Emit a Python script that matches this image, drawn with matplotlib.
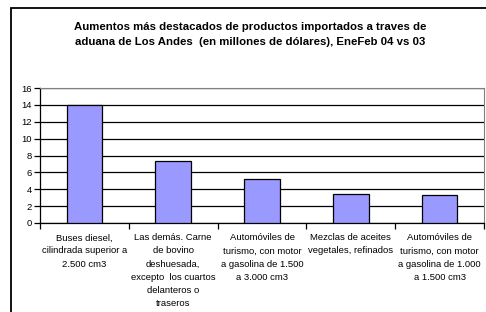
import matplotlib.pyplot as plt
from matplotlib.patches import Rectangle
import numpy as np

plt.rcParams['font.family'] = ['Liberation Sans', 'DejaVu Sans']

# data
categories = ['Buses diesel,\ncilindrada superior a\n2.500 cm3',
              'Las demás. Carne\nde bovino\ndeshuesada,\nexcepto  los cuartos\ndelanteros o\ntraseros',
              'Automóviles de\nturismo, con motor\na gasolina de 1.500\na 3.000 cm3',
              'Mezclas de aceites\nvegetales, refinados',
              'Automóviles de\nturismo, con motor\na gasolina de 1.000\na 1.500 cm3']
values = [13.95, 7.35, 5.18, 3.4, 3.28]
yticks = list(range(0, 17, 2))

title = ('Aumentos más destacados de productos importados a traves de\n'
         'aduana de Los Andes  (en millones de dólares), EneFeb 04 vs 03')

fig = plt.figure(figsize=(4.86, 3.12), dpi=100)
ax = fig.add_axes([40/486, 1-223/312, 444/486, 135/312])

x = np.arange(len(values))
ax.bar(x, values, width=0.4, color='#9999FF', edgecolor='black', linewidth=0.9, zorder=3)

ax.set_xlim(-0.5, len(values) - 0.5)
ax.set_ylim(0, 16)
ax.set_yticks(yticks)
ax.set_yticklabels([str(t) for t in yticks], fontsize=6.8)
ax.yaxis.grid(True, color='black', linewidth=0.9, zorder=0)

'''boundary ticks without labels, centre ticks carry the names'''
ax.set_xticks(np.arange(-0.5, len(values)), [''] * (len(values) + 1))
ax.set_xticks(x, categories, minor=True)
ax.tick_params(axis='x', which='minor', length=0, labelsize=6.8, pad=7.5)
ax.tick_params(axis='x', which='major', length=4, width=0.9, color='black')
ax.tick_params(axis='y', length=4, width=0.9, pad=2)
for lab in ax.get_xticklabels(minor=True):
    lab.set_multialignment('center')
    lab.set_linespacing(1.58)

for side in ['top', 'right']:
    ax.spines[side].set_color('#808080')
for side in ['left', 'bottom']:
    ax.spines[side].set_color('black')
    ax.spines[side].set_linewidth(0.9)

fig.text(250/486, 1-34.5/312, title, ha='center', va='center', fontsize=8.2,
         fontweight='bold', linespacing=1.58)

'''outer chart frame, cut off at the right and bottom'''
fig.add_artist(Rectangle((11/486, -0.1), 1.2, 1.1 - 8/312, transform=fig.transFigure,
                         fill=False, edgecolor='black', linewidth=1.3, clip_on=False))

plt.savefig('out.png', dpi=100)
